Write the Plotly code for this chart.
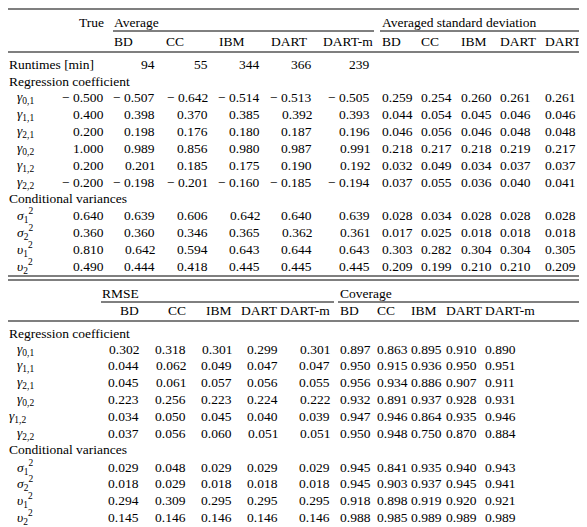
import plotly.graph_objects as go

methods = ["BD", "CC", "IBM", "DART", "DART-m"]
runtimes = [94, 55, 344, 366, 239]
reg_labels = ["<i>γ</i><sub>0,1</sub>", "<i>γ</i><sub>1,1</sub>", "<i>γ</i><sub>2,1</sub>",
              "<i>γ</i><sub>0,2</sub>", "<i>γ</i><sub>1,2</sub>", "<i>γ</i><sub>2,2</sub>"]
var_labels = ["<i>σ</i><sub>1</sub><sup>2</sup>", "<i>σ</i><sub>2</sub><sup>2</sup>",
              "<i>υ</i><sub>1</sub><sup>2</sup>", "<i>υ</i><sub>2</sub><sup>2</sup>"]
true_reg = [-0.500, 0.400, 0.200, 1.000, 0.200, -0.200]
true_var = [0.640, 0.360, 0.810, 0.490]
avg_reg = [[-0.507, -0.642, -0.514, -0.513, -0.505],
           [0.398, 0.370, 0.385, 0.392, 0.393],
           [0.198, 0.176, 0.180, 0.187, 0.196],
           [0.989, 0.856, 0.980, 0.987, 0.991],
           [0.201, 0.185, 0.175, 0.190, 0.192],
           [-0.198, -0.201, -0.160, -0.185, -0.194]]
avg_var = [[0.639, 0.606, 0.642, 0.640, 0.639],
           [0.360, 0.346, 0.365, 0.362, 0.361],
           [0.642, 0.594, 0.643, 0.644, 0.643],
           [0.444, 0.418, 0.445, 0.445, 0.445]]
sd_reg = [[0.259, 0.254, 0.260, 0.261, 0.261],
          [0.044, 0.054, 0.045, 0.046, 0.046],
          [0.046, 0.056, 0.046, 0.048, 0.048],
          [0.218, 0.217, 0.218, 0.219, 0.217],
          [0.032, 0.049, 0.034, 0.037, 0.037],
          [0.037, 0.055, 0.036, 0.040, 0.041]]
sd_var = [[0.028, 0.034, 0.028, 0.028, 0.028],
          [0.017, 0.025, 0.018, 0.018, 0.018],
          [0.303, 0.282, 0.304, 0.304, 0.305],
          [0.209, 0.199, 0.210, 0.210, 0.209]]
rmse_reg = [[0.302, 0.318, 0.301, 0.299, 0.301],
            [0.044, 0.062, 0.049, 0.047, 0.047],
            [0.045, 0.061, 0.057, 0.056, 0.055],
            [0.223, 0.256, 0.223, 0.224, 0.222],
            [0.034, 0.050, 0.045, 0.040, 0.039],
            [0.037, 0.056, 0.060, 0.051, 0.051]]
rmse_var = [[0.029, 0.048, 0.029, 0.029, 0.029],
            [0.018, 0.029, 0.018, 0.018, 0.018],
            [0.294, 0.309, 0.295, 0.295, 0.295],
            [0.145, 0.146, 0.146, 0.146, 0.146]]
cov_reg = [[0.897, 0.863, 0.895, 0.910, 0.890],
           [0.950, 0.915, 0.936, 0.950, 0.951],
           [0.956, 0.934, 0.886, 0.907, 0.911],
           [0.932, 0.891, 0.937, 0.928, 0.931],
           [0.947, 0.946, 0.864, 0.935, 0.946],
           [0.950, 0.948, 0.750, 0.870, 0.884]]
cov_var = [[0.945, 0.841, 0.935, 0.940, 0.943],
           [0.945, 0.903, 0.937, 0.945, 0.941],
           [0.918, 0.898, 0.919, 0.920, 0.921],
           [0.988, 0.985, 0.989, 0.989, 0.989]]

FONT = dict(family="Liberation Serif, 'Times New Roman', Times, serif", size=13.5, color="black")
ann, shapes = [], []

def fmt(v):
    return ("\u2212 %.3f" % -v) if v < 0 else "%.3f" % v

def T(x, y, s, anchor="left"):
    ann.append(dict(x=x, y=y, text=s, xanchor=anchor, yanchor="middle", showarrow=False,
                    xref="x", yref="y", font=FONT, borderpad=0))

def rule(x0, x1, y, w=1.2):
    shapes.append(dict(type="line", x0=x0, x1=x1, y0=y, y1=y, xref="x", yref="y",
                       line=dict(color="black", width=w)))

# ---------- Top table ----------
avg_right = [148, 201, 253, 305, 363]
avg_head = [105, 157, 210, 262, 314]
sd_left = [373, 412, 452, 491, 536]
rule(0, 587, 1)
T(97, 14, "True", "right"); T(105, 14, "Average"); T(373, 14, "Averaged standard deviation")
rule(105, 366, 23, 1); rule(372, 585, 23, 1)
for i, m in enumerate(methods):
    T(avg_head[i], 33, m); T(sd_left[i], 33, m)
rule(0, 587, 44)
T(0, 56, "Runtimes [min]")
for i, r in enumerate(runtimes):
    T(avg_right[i], 56, str(r), "right")
T(0, 73, "Regression coefficient")
for k, lab in enumerate(reg_labels):
    y = 89 + k * 17
    T(8, y, lab); T(97, y, fmt(true_reg[k]), "right")
    for i in range(5):
        T(avg_right[i], y, fmt(avg_reg[k][i]), "right")
        T(sd_left[i], y, fmt(sd_reg[k][i]))
T(0, 190, "Conditional variances")
for k, lab in enumerate(var_labels):
    y = 207 + k * 17
    T(8, y, lab); T(97, y, fmt(true_var[k]), "right")
    for i in range(5):
        T(avg_right[i], y, fmt(avg_var[k][i]), "right")
        T(sd_left[i], y, fmt(sd_var[k][i]))
rule(0, 587, 268)

# ---------- Bottom table ----------
rm_right = [132, 179, 225, 271, 323]
cov_left = [331, 368, 402, 437, 476]
rule(0, 587, 272)
T(93, 285, "RMSE"); T(331, 285, "Coverage")
rule(93, 326, 294, 1); rule(330, 587, 294, 1)
for i, m in enumerate(methods):
    T(rm_right[i], 302, m, "right"); T(cov_left[i], 302, m)
rule(0, 587, 313)
T(0, 325, "Regression coefficient")
for k, lab in enumerate(reg_labels):
    y = 341 + k * 16.8
    T(0 if k == 4 else 8, y, lab)
    for i in range(5):
        T(rm_right[i], y, fmt(rmse_reg[k][i]), "right")
        T(cov_left[i], y, fmt(cov_reg[k][i]))
T(0, 441, "Conditional variances")
for k, lab in enumerate(var_labels):
    y = 459 + k * 16.8
    T(8, y, lab)
    for i in range(5):
        T(rm_right[i], y, fmt(rmse_var[k][i]), "right")
        T(cov_left[i], y, fmt(cov_var[k][i]))
rule(0, 587, 525)

fig = go.Figure()
fig.update_layout(width=587, height=527, margin=dict(l=0, r=0, t=0, b=0),
                  paper_bgcolor="white", plot_bgcolor="white",
                  font=FONT,
                  xaxis=dict(range=[0, 587], visible=False, fixedrange=True),
                  yaxis=dict(range=[527, 0], visible=False, fixedrange=True),
                  annotations=ann, shapes=shapes, showlegend=False)
fig.write_html("out.html", config={"displayModeBar": False})
